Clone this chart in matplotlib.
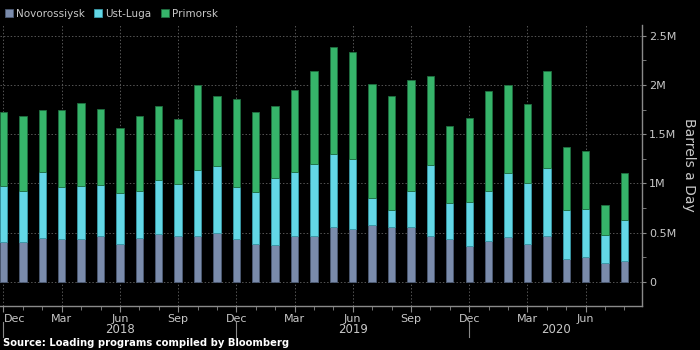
import numpy as np
import pandas as pd
import matplotlib
matplotlib.use('Agg')
import matplotlib.pyplot as plt
from matplotlib.ticker import FixedLocator, MultipleLocator, FuncFormatter
from matplotlib.transforms import blended_transform_factory

# monthly loadings, million barrels a day
months = pd.date_range('2017-12-01', '2020-08-01', freq='MS')
novorossiysk = [0.40, 0.40, 0.44, 0.43, 0.43, 0.46, 0.38, 0.44, 0.49, 0.47, 0.47,
                0.50, 0.43, 0.38, 0.37, 0.46, 0.47, 0.56, 0.54, 0.58, 0.56, 0.56,
                0.46, 0.43, 0.36, 0.41, 0.45, 0.38, 0.47, 0.23, 0.25, 0.19, 0.21]
ust_luga = [0.57, 0.52, 0.68, 0.53, 0.54, 0.52, 0.52, 0.48, 0.54, 0.52, 0.67,
            0.68, 0.53, 0.53, 0.68, 0.66, 0.73, 0.74, 0.71, 0.27, 0.17, 0.36,
            0.73, 0.37, 0.45, 0.51, 0.66, 0.62, 0.69, 0.50, 0.49, 0.29, 0.42]
primorsk = [0.75, 0.76, 0.63, 0.79, 0.85, 0.78, 0.66, 0.76, 0.76, 0.66, 0.86,
            0.71, 0.90, 0.81, 0.74, 0.83, 0.94, 1.09, 1.08, 1.16, 1.16, 1.13,
            0.90, 0.78, 0.85, 1.02, 0.89, 0.81, 0.98, 0.64, 0.59, 0.30, 0.48]

series = [('Novorossiysk', novorossiysk, '#7a8bab', '#4c5a73'),
          ('Ust-Luga', ust_luga, '#63d7e6', '#3a9aa8'),
          ('Primorsk', primorsk, '#36b46a', '#1f6e40')]

txt = '#c8c8c8'
axcol = '#8a8a8a'

fig = plt.figure(figsize=(7, 3.5), dpi=100, facecolor='black')
ax = fig.add_axes([0.0, 0.126, 0.917, 0.803], facecolor='black')

x = np.arange(len(months))
bottom = np.zeros(len(months))
for name, vals, col, edge in series:
    ax.bar(x, vals, width=0.38, bottom=bottom, color=col, edgecolor=edge,
           linewidth=0.6, label=name, zorder=3)
    bottom += np.array(vals)

ax.set_xlim(-0.18, 32.9)
ax.set_ylim(-0.245, 2.61)

# axes on the right like Bloomberg charts
ax.yaxis.tick_right()
ax.yaxis.set_label_position('right')
ax.yaxis.set_major_locator(FixedLocator([0, 0.5, 1, 1.5, 2, 2.5]))
ax.yaxis.set_minor_locator(FixedLocator([0.25, 0.75, 1.25, 1.75, 2.25]))
ax.yaxis.set_major_formatter(FuncFormatter(lambda v, p: '0' if v == 0 else '{:g}M'.format(v)))
ax.set_ylabel('Barrels a Day', color=txt, fontsize=10, rotation=270, labelpad=14)

major = [i for i, m in enumerate(months) if m.month in (3, 6, 9, 12)]
ax.xaxis.set_major_locator(FixedLocator(major))
ax.xaxis.set_minor_locator(MultipleLocator(1))
ax.set_xticklabels([months[i].strftime('%b') for i in major])
# first label would be cut at the left edge
ax.get_xticklabels()[0].set_horizontalalignment('left')
ax.get_xticklabels()[0].set_x(-0.1)

ax.tick_params(axis='both', which='both', colors=axcol, labelcolor=txt, labelsize=8)
ax.tick_params(axis='x', which='major', length=4, pad=2)
ax.tick_params(axis='x', which='minor', length=3)
ax.tick_params(axis='y', which='major', length=3, pad=2)
ax.tick_params(axis='y', which='minor', length=3)

for s in ['top', 'left']:
    ax.spines[s].set_visible(False)
for s in ['right', 'bottom']:
    ax.spines[s].set_color(axcol)
    ax.spines[s].set_linewidth(1.0)

ax.grid(True, which='major', color='#555555', linestyle=(0, (1.5, 2)), linewidth=0.7, zorder=0)

# year separators and labels under the month labels
tr = blended_transform_factory(ax.transData, ax.transAxes)
seps = [i for i, m in enumerate(months) if m.month == 12]
for s in seps:
    ax.plot([s, s], [-0.057, -0.11], color=axcol, lw=0.8, transform=tr, clip_on=False)
edges = seps + [32.9]
for a, b in zip(edges[:-1], edges[1:]):
    ax.text((a + b) / 2, -0.083, str(months[a].year + 1), transform=tr, ha='center',
            va='center', color=txt, fontsize=8.5)

ax.legend(loc='upper left', bbox_to_anchor=(0.0, 0.99), bbox_transform=fig.transFigure,
          ncol=3, frameon=False, fontsize=7.5, labelcolor=txt, handlelength=0.75,
          handleheight=0.75, handletextpad=0.3, columnspacing=0.9, borderpad=0.3,
          borderaxespad=0.2)

fig.text(0.004, 0.02, 'Source: Loading programs compiled by Bloomberg', color='white',
         fontsize=7.2, fontweight='bold', ha='left', va='center')

fig.savefig('out.png', dpi=100, facecolor='black')
